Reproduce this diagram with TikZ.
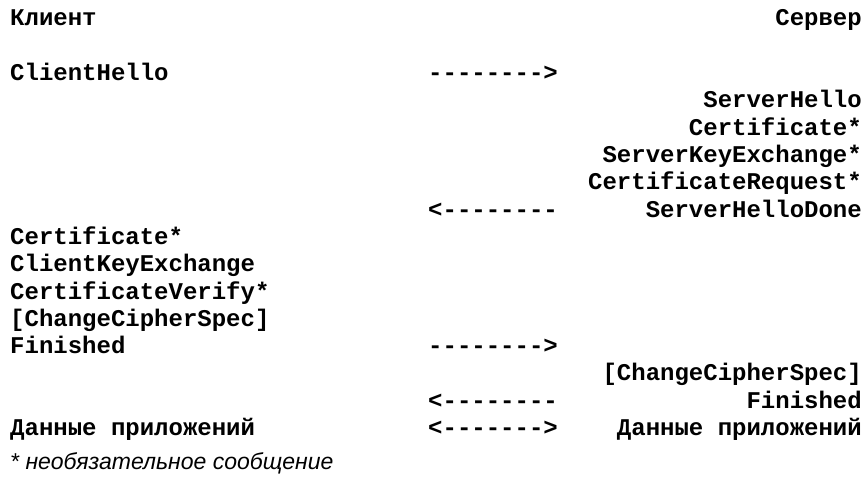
\documentclass[tikz,border=0pt]{standalone}
\usepackage{fontspec}
\setmonofont{Liberation Mono}
\newfontfamily\notefont{Liberation Sans}
\usetikzlibrary{positioning}

\begin{document}
\begin{tikzpicture}[x=1pt, y=-1pt,
    every node/.style={inner sep=0pt, font=\ttfamily\bfseries\fontsize{24}{27}\selectfont},
    cli/.style={anchor=base west},
    srv/.style={anchor=base east},
    msgarrow/.style={anchor=base west}]
    \useasboundingbox (0,0) rectangle (864,481);
    % header
    \node[cli] (client) at (10,26) {Клиент};
    \node[srv] (server) at (862,26) {Сервер};
    % first flight
    \node[cli] (chello) at (10,80.6) {ClientHello};
    \node[msgarrow] (a1) at (428,80.6) {-------->};
    \node[srv] (shello) at (862,107.9) {ServerHello};
    \node[srv] (scert) at (862,135.2) {Certificate*};
    \node[srv] (ske) at (862,162.5) {ServerKeyExchange*};
    \node[srv] (creq) at (862,189.8) {CertificateRequest*};
    \node[msgarrow] (a2) at (428,217.1) {<--------};
    \node[srv] (shdone) at (862,217.1) {ServerHelloDone};
    % client reply
    \node[cli] (ccert) at (10,244.4) {Certificate*};
    \node[cli] (cke) at (10,271.7) {ClientKeyExchange};
    \node[cli] (cver) at (10,299) {CertificateVerify*};
    \node[cli] (cccs) at (10,326.3) {[ChangeCipherSpec]};
    \node[cli] (cfin) at (10,353.6) {Finished};
    \node[msgarrow] (a3) at (428,353.6) {-------->};
    % server finish
    \node[srv] (sccs) at (862,380.9) {[ChangeCipherSpec]};
    \node[msgarrow] (a4) at (428,408.2) {<--------};
    \node[srv] (sfin) at (862,408.2) {Finished};
    % application data
    \node[cli] (cdata) at (10,435.5) {Данные приложений};
    \node[msgarrow] (a5) at (428,435.5) {<------->};
    \node[srv] (sdata) at (862,435.5) {Данные приложений};
    \node[anchor=base west, font=\notefont\itshape\fontsize{23}{27}\selectfont] (note) at (10,469) {* необязательное сообщение};
\end{tikzpicture}
\end{document}
